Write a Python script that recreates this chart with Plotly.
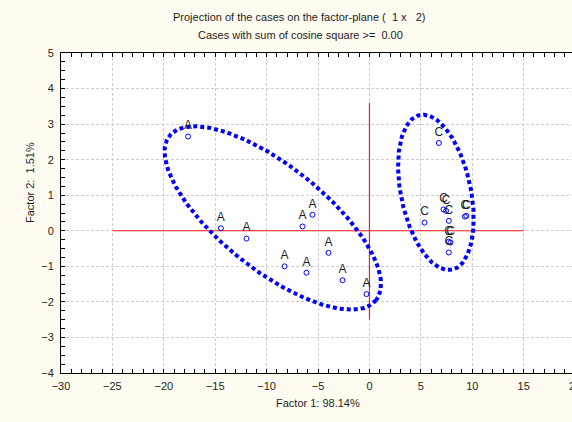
import numpy as np
import plotly.graph_objects as go

# Case coordinates on the first two factors
group_a_x = [-17.64, -14.45, -11.96, -6.51, -5.54, -3.98, -8.26, -6.12, -2.62, -0.29]
group_a_y = [2.65, 0.07, -0.22, 0.12, 0.45, -0.62, -1.00, -1.18, -1.39, -1.78]
group_c_x = [6.75, 5.36, 7.20, 7.45, 7.72, 9.28, 9.42, 7.70, 7.88, 7.72]
group_c_y = [2.47, 0.23, 0.60, 0.56, 0.28, 0.40, 0.42, -0.31, -0.33, -0.61]

x_ticks = [-30, -25, -20, -15, -10, -5, 0, 5, 10, 15]
y_ticks = [-4, -3, -2, -1, 0, 1, 2, 3, 4, 5]

W, H = 572, 422
ML, MT, MB = 61, 53, 49
X_RANGE = [-30, 19.7]
Y_RANGE = [-4, 5]
PW = W - ML
PH = H - MT - MB
SX = PW / (X_RANGE[1] - X_RANGE[0])   # px per x unit
SY = PH / (Y_RANGE[1] - Y_RANGE[0])   # px per y unit

BG = "#fffbf0"
FONT = "Liberation Sans, Arial, sans-serif"
TXT = "#1e1e1e"
RED = "#ff1a1a"


def ellipse(cx, cy, a_px, b_px, angle_deg, n=400):
    """Ellipse defined on screen (pixel) proportions, returned in data units."""
    t = np.linspace(0, 2 * np.pi, n)
    th = np.deg2rad(angle_deg)
    u = a_px * np.cos(t)
    v = b_px * np.sin(t)
    dx = u * np.cos(th) - v * np.sin(th)
    dy = u * np.sin(th) + v * np.cos(th)   # screen y points down
    return cx + dx / SX, cy - dy / SY


fig = go.Figure()

# reference axes through the origin
fig.add_trace(go.Scatter(x=[-25, 15], y=[0, 0], mode="lines",
                         line=dict(color=RED, width=1), hoverinfo="skip"))
fig.add_trace(go.Scatter(x=[0, 0], y=[-2.5, 3.6], mode="lines",
                         line=dict(color=RED, width=1.2), hoverinfo="skip"))

# group envelopes
ex, ey = ellipse(-9.40, 0.36, 132, 52, 38.5)
fig.add_trace(go.Scatter(x=ex, y=ey, mode="lines",
                         line=dict(color="#0000ff", width=4, dash="4px,3px")))
ex, ey = ellipse(6.46, 1.08, 79, 35, 78.3)
fig.add_trace(go.Scatter(x=ex, y=ey, mode="lines",
                         line=dict(color="#0000ff", width=4, dash="4px,3px")))

for xs, ys, lab in [(group_a_x, group_a_y, "A"), (group_c_x, group_c_y, "C")]:
    fig.add_trace(go.Scatter(
        x=xs, y=ys, mode="markers+text", text=[lab] * len(xs),
        textposition="top center",
        textfont=dict(family=FONT, size=12, color=TXT),
        marker=dict(symbol="circle-open", size=5, color="#0000ff",
                    line=dict(width=1, color="#0000ff")),
        cliponaxis=False,
    ))

axis_common = dict(
    showline=True, linecolor="black", linewidth=1,
    ticks="inside", ticklen=4, tickcolor="black",
    showgrid=True, gridcolor="#cfcfcf", griddash="3px,2px", gridwidth=1,
    zeroline=False, automargin=False,
    tickfont=dict(family=FONT, size=11, color=TXT),
)

fig.update_layout(
    width=W, height=H,
    margin=dict(l=ML, r=0, t=MT, b=MB, pad=0),
    paper_bgcolor=BG, plot_bgcolor="white",
    showlegend=False,
    template="none",
    xaxis=dict(range=X_RANGE, tickvals=x_ticks, mirror="ticks", ticklabelstandoff=3,
               minor=dict(dtick=1, ticks="inside", ticklen=4, tickcolor="black", showgrid=False),
               **axis_common),
    yaxis=dict(range=Y_RANGE, tickvals=y_ticks, mirror=False, ticklabelstandoff=4,
               minor=dict(dtick=0.25, ticks="inside", ticklen=4, tickcolor="black", showgrid=False),
               **axis_common),
)


def px_to_paper_x(px):
    return (px - ML) / PW


def py_to_paper_y(py):
    return (H - MB - py) / PH


# last x tick label sits at the window edge
x20 = px_to_paper_x(ML + (20 - X_RANGE[0]) * SX)
fig.add_annotation(x=x20, y=py_to_paper_y(386), xref="paper", yref="paper", text="20",
                   showarrow=False, xanchor="center", yanchor="middle",
                   font=dict(family=FONT, size=11, color=TXT))

fig.add_annotation(x=px_to_paper_x(299), y=py_to_paper_y(17), xref="paper", yref="paper",
                   text="Projection of the cases on the factor-plane (\u00a0 1 x \u00a0\u00a02)",
                   showarrow=False, xanchor="center", yanchor="middle",
                   font=dict(family=FONT, size=11, color=TXT))
fig.add_annotation(x=px_to_paper_x(300), y=py_to_paper_y(35), xref="paper", yref="paper",
                   text="Cases with sum of cosine square >= \u00a00.00",
                   showarrow=False, xanchor="center", yanchor="middle",
                   font=dict(family=FONT, size=11, color=TXT))
fig.add_annotation(x=px_to_paper_x(318), y=py_to_paper_y(403), xref="paper", yref="paper",
                   text="Factor 1: 98.14%", showarrow=False,
                   xanchor="center", yanchor="middle",
                   font=dict(family=FONT, size=11, color=TXT))
fig.add_annotation(x=px_to_paper_x(30), y=py_to_paper_y(183), xref="paper", yref="paper",
                   text="Factor 2: \u00a01.51%", showarrow=False, textangle=-90,
                   xanchor="center", yanchor="middle",
                   font=dict(family=FONT, size=11, color=TXT))

fig.write_html("out.html")
